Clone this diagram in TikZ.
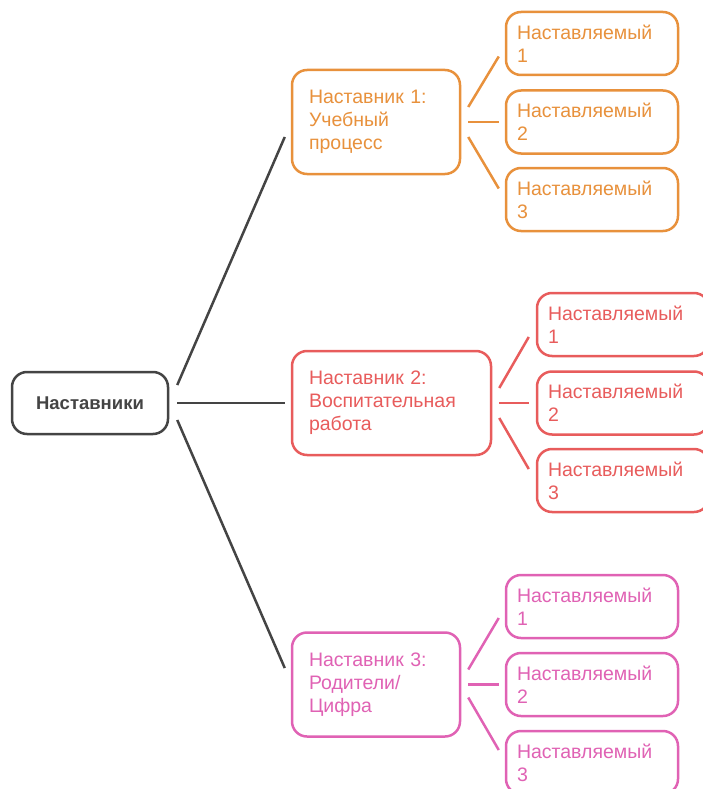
\documentclass[tikz,border=0pt]{standalone}
\usepackage{fontspec}
\setmainfont{Liberation Sans}
\usetikzlibrary{calc}
\definecolor{cdark}{HTML}{444444}
\definecolor{corange}{HTML}{E8913C}
\definecolor{cred}{HTML}{E85C5C}
\definecolor{cpink}{HTML}{E062B4}
\tikzset{
  box/.style={draw, line width=2.5, rounded corners=15, fill=white, align=left,
    font=\fontsize{19.5}{23}\selectfont, inner ysep=0},
  rootbox/.style={box, draw=cdark, text=cdark, minimum width=156, minimum height=62,
    align=center, font=\fontsize{18.5}{23}\selectfont\bfseries},
  mentor/.style={box, minimum height=104, inner xsep=17, text width=#1},
  mentee/.style={box, minimum height=63, inner xsep=11, text width=150},
  link/.style={line width=2.5},
}
\begin{document}
\begin{tikzpicture}[x=1pt,y=-1pt]
\useasboundingbox (0,0) rectangle (703,789);
\clip (0,0) rectangle (703,789);
\node[rootbox] (root) at (90,403) {Наставники};
% mentors
\node[mentor=134, draw=corange, text=corange] (m1) at (376,122) {Наставник 1:\\Учебный\\процесс};
\node[mentor=165, draw=cred, text=cred] (m2) at (391.5,403) {Наставник 2:\\Воспитательная\\работа};
\node[mentor=134, draw=cpink, text=cpink] (m3) at (376,684.5) {Наставник 3:\\Родители/\\Цифра};
% mentees
\node[mentee, draw=corange, text=corange] (a1) at (592,43.5) {Наставляемый\\1};
\node[mentee, draw=corange, text=corange] (a2) at (592,122) {Наставляемый\\2};
\node[mentee, draw=corange, text=corange] (a3) at (592,199.5) {Наставляемый\\3};
\node[mentee, draw=cred, text=cred] (b1) at (623,324.5) {Наставляемый\\1};
\node[mentee, draw=cred, text=cred] (b2) at (623,403) {Наставляемый\\2};
\node[mentee, draw=cred, text=cred] (b3) at (623,480.5) {Наставляемый\\3};
\node[mentee, draw=cpink, text=cpink] (c1) at (592,606.5) {Наставляемый\\1};
\node[mentee, draw=cpink, text=cpink] (c2) at (592,684.5) {Наставляемый\\2};
\node[mentee, draw=cpink, text=cpink] (c3) at (592,762.5) {Наставляемый\\3};
% root links
\draw[link, cdark] ($(root.east)+(8,-18)$) -- ($(m1.west)+(-6,15)$);
\draw[link, cdark] ($(root.east)+(8,0)$) -- ($(m2.west)+(-6,0)$);
\draw[link, cdark] ($(root.east)+(8,17)$) -- ($(m3.west)+(-6,-16.5)$);
% mentor 1 links
\draw[link, corange] ($(m1.east)+(7,-15)$) -- ($(a1.west)+(-6,13)$);
\draw[link, corange] ($(m1.east)+(7,0)$) -- ($(a2.west)+(-6,0)$);
\draw[link, corange] ($(m1.east)+(7,15)$) -- ($(a3.west)+(-6,-11)$);
% mentor 2 links
\draw[link, cred] ($(m2.east)+(7,-15)$) -- ($(b1.west)+(-7,12.5)$);
\draw[link, cred] ($(m2.east)+(7,0)$) -- ($(b2.west)+(-7,0)$);
\draw[link, cred] ($(m2.east)+(7,15)$) -- ($(b3.west)+(-7,-11.5)$);
% mentor 3 links
\draw[link, cpink] ($(m3.east)+(7,-15)$) -- ($(c1.west)+(-6,11.5)$);
\draw[link, cpink] ($(m3.east)+(7,0)$) -- ($(c2.west)+(-6,0)$);
\draw[link, cpink] ($(m3.east)+(7,13)$) -- ($(c3.west)+(-6,-12.5)$);
\end{tikzpicture}
\end{document}
